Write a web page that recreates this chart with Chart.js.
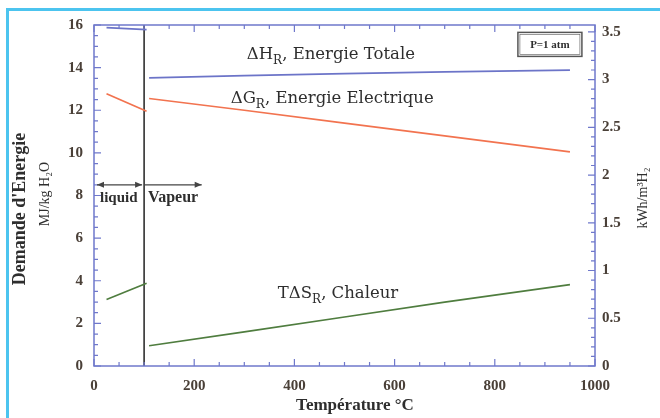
<!DOCTYPE html>
<html>
<head>
<meta charset="utf-8">
<script src="https://cdn.jsdelivr.net/npm/chart.js@4.4.1/dist/chart.umd.min.js"></script>
<style>
    html, body { margin: 0; padding: 0; background: #fff; }
    #wrap { position: relative; width: 660px; height: 418px; overflow: hidden; }
    #cadre { position: absolute; left: 6px; top: 8px; width: 660px; height: 420px;
             border-top: 3px solid #4cc4ef; border-left: 3px solid #4cc4ef; }
    #chart { position: absolute; left: 0; top: 0; }
</style>
</head>
<body>
<div id="wrap">
    <div id="cadre"></div>
    <canvas id="chart" width="660" height="418"></canvas>
</div>
<script>
// Données (MJ/kg H2O)
const liquideT = [25, 105];
const liquideH = [15.88, 15.78];
const liquideG = [12.77, 11.95];
const liquideS = [3.12, 3.88];

const vapeurT = [110, 300, 500, 700, 950];
const vapeurH = [13.52, 13.62, 13.72, 13.80, 13.88];
const vapeurG = [12.55, 12.00, 11.40, 10.80, 10.05];
const vapeurS = [0.95, 1.60, 2.30, 3.00, 3.82];

const ebullitionT = 100;        // changement de phase
const kwhFacteur = 4.48;        // MJ/kg H2O -> kWh/m3 H2
const ticksDroite = [0, 0.5, 1, 1.5, 2, 2.5, 3, 3.5];

const couleurH = "#6c74c8";
const couleurG = "#f2734f";
const couleurS = "#4f7d3f";
const couleurAxe = "#6f78cb";
const couleurTexte = "#2e2e2e";
const serif = '"Liberation Serif", "DejaVu Serif", serif';
const serifLarge = '"DejaVu Serif", serif';

function points(xs, ys) {
    return xs.map((x, i) => ({ x: x, y: ys[i] }));
}

function serie(xs, ys, couleur) {
    return {
        data: points(xs, ys),
        borderColor: couleur,
        borderWidth: 1.7,
        pointRadius: 0,
        tension: 0,
        yAxisID: "y"
    };
}

// Texte avec indice (ex: ΔH_R)
function texteIndice(ctx, morceaux, x, y, taille) {
    let cx = x;
    morceaux.forEach(m => {
        if (m.sub) {
            ctx.font = Math.round(taille * 0.7) + "px " + serifLarge;
            ctx.fillText(m.t, cx, y + taille * 0.3);
        } else {
            ctx.font = taille + "px " + serifLarge;
            ctx.fillText(m.t, cx, y);
        }
        cx += ctx.measureText(m.t).width;
    });
}

function fleche(ctx, x1, x2, y, gauche, droite) {
    ctx.beginPath();
    ctx.moveTo(x1, y);
    ctx.lineTo(x2, y);
    ctx.stroke();
    ctx.beginPath();
    if (gauche) {
        ctx.moveTo(x1, y); ctx.lineTo(x1 + 7, y - 3); ctx.lineTo(x1 + 7, y + 3); ctx.closePath();
    }
    if (droite) {
        ctx.moveTo(x2, y); ctx.lineTo(x2 - 7, y - 3); ctx.lineTo(x2 - 7, y + 3); ctx.closePath();
    }
    ctx.fill();
}

const decor = {
    id: "decor",
    afterDraw(chart) {
        const ctx = chart.ctx;
        const a = chart.chartArea;
        const sx = chart.scales.x, sy = chart.scales.y, sy1 = chart.scales.y1;
        ctx.save();

        // cadre du graphe
        ctx.strokeStyle = couleurAxe;
        ctx.lineWidth = 1.5;
        ctx.strokeRect(a.left, a.top, a.right - a.left, a.bottom - a.top);

        // graduations vers l'intérieur
        ctx.lineWidth = 1.2;
        ctx.beginPath();
        for (let v = 0; v <= 1000; v += 50) {
            const px = sx.getPixelForValue(v);
            const l = v % 200 === 0 ? 7 : 4;
            ctx.moveTo(px, a.bottom); ctx.lineTo(px, a.bottom - l);
            ctx.moveTo(px, a.top); ctx.lineTo(px, a.top + l);
        }
        for (let v = 0; v <= 16; v += 0.5) {
            const py = sy.getPixelForValue(v);
            const l = v % 2 === 0 ? 7 : 4;
            ctx.moveTo(a.left, py); ctx.lineTo(a.left + l, py);
        }
        for (let i = 0; i <= 35; i++) {
            const py = sy1.getPixelForValue(i / 10);
            const l = i % 5 === 0 ? 7 : 4;
            ctx.moveTo(a.right, py); ctx.lineTo(a.right - l, py);
        }
        ctx.stroke();

        // flèches liquide / vapeur
        const yf = sy.getPixelForValue(8.5);
        const xb = sx.getPixelForValue(ebullitionT);
        ctx.strokeStyle = "#444";
        ctx.fillStyle = "#444";
        ctx.lineWidth = 1.2;
        fleche(ctx, sx.getPixelForValue(0) + 3, xb - 2, yf, true, true);
        fleche(ctx, xb, sx.getPixelForValue(215), yf, false, true);

        ctx.fillStyle = couleurTexte;
        ctx.textBaseline = "alphabetic";
        ctx.textAlign = "left";
        ctx.font = "bold 15px " + serif;
        ctx.fillText("liquid", sx.getPixelForValue(12), sy.getPixelForValue(7.7));
        ctx.font = "bold 16px " + serif;
        ctx.fillText("Vapeur", sx.getPixelForValue(108), sy.getPixelForValue(7.7));

        // étiquettes des courbes
        texteIndice(ctx, [{ t: "ΔH" }, { t: "R", sub: true }, { t: ", Energie Totale" }],
            sx.getPixelForValue(305), sy.getPixelForValue(14.39), 16.5);
        texteIndice(ctx, [{ t: "ΔG" }, { t: "R", sub: true }, { t: ", Energie Electrique" }],
            sx.getPixelForValue(273), sy.getPixelForValue(12.36), 16.5);
        texteIndice(ctx, [{ t: "TΔS" }, { t: "R", sub: true }, { t: ", Chaleur" }],
            sx.getPixelForValue(367), sy.getPixelForValue(3.19), 16.5);

        // encadré P=1 atm
        const bx = sx.getPixelForValue(910), by = sy.getPixelForValue(15.09);
        ctx.strokeStyle = "#555";
        ctx.lineWidth = 1.5;
        ctx.strokeRect(bx - 32, by - 12, 64, 24);
        ctx.lineWidth = 0.6;
        ctx.strokeRect(bx - 30, by - 10, 60, 20);
        ctx.font = "bold 11px " + serif;
        ctx.textAlign = "center";
        ctx.textBaseline = "middle";
        ctx.fillText("P=1 atm", bx, by + 1);

        // titres des axes
        ctx.font = "bold 17px " + serif;
        ctx.fillText("Température °C", 355, 406);

        ctx.save();
        ctx.translate(20, 209);
        ctx.rotate(-Math.PI / 2);
        ctx.font = "bold 18px " + serif;
        ctx.fillText("Demande d'Energie", 0, 0);
        ctx.restore();

        ctx.save();
        ctx.translate(45, 194);
        ctx.rotate(-Math.PI / 2);
        ctx.font = "14px " + serif;
        ctx.fillText("MJ/kg H₂O", 0, 0);
        ctx.restore();

        ctx.save();
        ctx.translate(643, 198);
        ctx.rotate(-Math.PI / 2);
        ctx.font = "14px " + serif;
        ctx.fillText("kWh/m³H₂", 0, 0);
        ctx.restore();

        ctx.restore();
    }
};

const policeTicks = { family: serif, size: 15, weight: "bold" };

new Chart(document.getElementById("chart"), {
    type: "line",
    data: {
        datasets: [
            serie(liquideT, liquideH, couleurH),
            serie(liquideT, liquideG, couleurG),
            serie(liquideT, liquideS, couleurS),
            serie(vapeurT, vapeurH, couleurH),
            serie(vapeurT, vapeurG, couleurG),
            serie(vapeurT, vapeurS, couleurS),
            {
                data: [{ x: ebullitionT, y: 0 }, { x: ebullitionT, y: 16.1 }],
                borderColor: "#222",
                borderWidth: 1.5,
                pointRadius: 0,
                yAxisID: "y"
            }
        ]
    },
    options: {
        responsive: false,
        animation: false,
        events: [],
        layout: { padding: { top: 25, left: 0, right: 0, bottom: 0 } },
        plugins: { legend: { display: false }, tooltip: { enabled: false } },
        scales: {
            x: {
                type: "linear",
                min: 0,
                max: 1000,
                grid: { display: false, drawTicks: false },
                border: { display: false },
                ticks: {
                    stepSize: 200, padding: 11, color: "#4a4038", font: policeTicks, maxRotation: 0,
                    callback: v => String(v)
                },
                afterFit: s => { s.height = 52; }
            },
            y: {
                position: "left",
                min: 0,
                max: 16,
                grid: { display: false, drawTicks: false },
                border: { display: false },
                ticks: { stepSize: 2, padding: 11, color: "#4a4038", font: policeTicks },
                afterFit: s => { s.width = 94; }
            },
            y1: {
                position: "right",
                min: 0,
                max: 16 / kwhFacteur,
                grid: { display: false, drawTicks: false },
                border: { display: false },
                ticks: {
                    padding: 7, color: "#4a4038", font: policeTicks,
                    callback: v => String(v)
                },
                afterBuildTicks: s => {
                    s.ticks = ticksDroite.map(v => ({ value: v }));
                },
                afterFit: s => { s.width = 65; }
            }
        }
    },
    plugins: [decor]
});
</script>
</body>
</html>
